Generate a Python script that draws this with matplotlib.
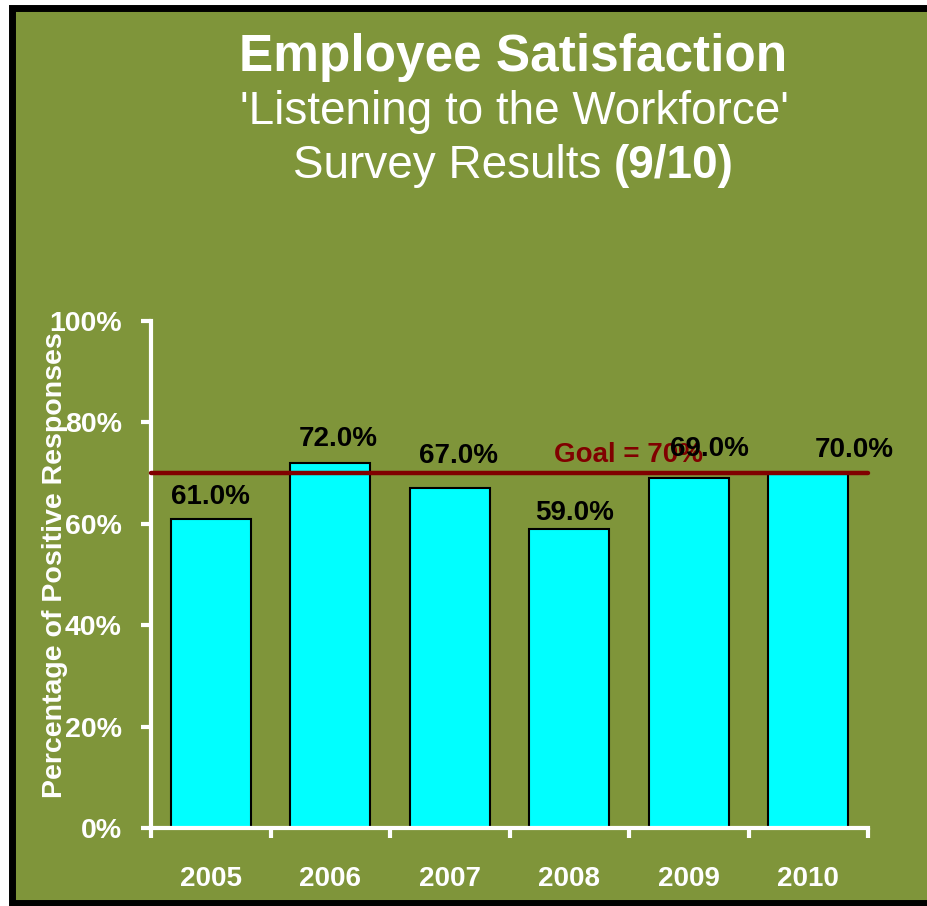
import matplotlib
matplotlib.use("Agg")
import matplotlib.pyplot as plt
from matplotlib.patches import Rectangle
from matplotlib.ticker import FuncFormatter, FixedLocator
import numpy as np

plt.rcParams['font.family'] = ['Liberation Sans', 'DejaVu Sans']

years = ["2005", "2006", "2007", "2008", "2009", "2010"]
values = [61.0, 72.0, 67.0, 59.0, 69.0, 70.0]
goal = 70.0
yticks = [0, 20, 40, 60, 80, 100]

# label placement tweaks (points), as in the original layout
label_dx = [0, 6, 6, 4, 15, 33]
label_dy = [6, 8, 14, 2, 12, 7]

W, H = 928, 906
fig = plt.figure(figsize=(W / 100, H / 100), dpi=100)
fig.patch.set_facecolor("white")

olive = "#7f953a"
panel = Rectangle((12 / W, 1 - 903 / H), 1.0, (903 - 8) / H, transform=fig.transFigure,
                  facecolor=olive, edgecolor="black", linewidth=5, zorder=-5)
fig.patches.append(panel)

ax = fig.add_axes([151 / W, 1 - 828 / H, (868 - 151) / W, (828 - 321) / H])
ax.set_facecolor("none")
ax.set_zorder(2)

x = np.arange(len(years))
ax.bar(x, values, width=0.67, color="#00ffff", edgecolor="black", linewidth=1.5, zorder=2)
ax.plot([-0.5, 5.5], [goal, goal], color="#800000", linewidth=3.2, zorder=3,
        solid_capstyle="round", clip_on=False)
ax.text(3.5, goal + 1.0, f"Goal = {goal:.0f}%", color="#800000", fontsize=20,
        fontweight="bold", ha="center", va="bottom", zorder=4)

for i, v in enumerate(values):
    ax.annotate(f"{v:.1f}%", (x[i], v), xytext=(label_dx[i], label_dy[i]),
                textcoords="offset points", ha="center", va="bottom",
                fontsize=20, fontweight="bold", color="black", zorder=5)

ax.set_xlim(-0.5, 5.5)
ax.set_ylim(0, 100)
for s in ["top", "right"]:
    ax.spines[s].set_visible(False)
for s in ["left", "bottom"]:
    ax.spines[s].set_color("white")
    ax.spines[s].set_linewidth(3)

ax.yaxis.set_major_locator(FixedLocator(yticks))
ax.yaxis.set_major_formatter(FuncFormatter(lambda v, p: f"{v:.0f}%"))
ax.tick_params(axis="y", colors="white", length=7, width=3, direction="out", pad=14,
               labelsize=20.5)
for t in ax.get_yticklabels():
    t.set_fontweight("bold")

ax.set_xticks(x)
ax.set_xticklabels(years, fontsize=20, fontweight="bold", color="white")
ax.set_xticks(np.arange(-0.5, 6.0, 1.0), minor=True)
ax.tick_params(axis="x", which="major", length=0, pad=27, colors="white")
ax.tick_params(axis="x", which="minor", length=7, width=3, direction="out", colors="white")

fig.text(55 / W, 1 - 565 / H, "Percentage of Positive Responses", rotation=90,
         color="white", fontsize=20.5, fontweight="bold", ha="center", va="center",
         zorder=10)

fig.text(513 / W, 1 - 57 / H, "Employee Satisfaction", color="white", fontsize=37,
         fontweight="bold", ha="center", va="center")
fig.text(514 / W, 1 - 112 / H, "'Listening to the Workforce'", color="white",
         fontsize=33, ha="center", va="center")
t1 = fig.text(293 / W, 1 - 166 / H, "Survey Results ", color="white", fontsize=33,
              ha="left", va="center")
fig.canvas.draw()
bb = t1.get_window_extent()
fig.text(bb.x1 / W, 1 - 166 / H, "(9/10)", color="white", fontsize=33,
         fontweight="bold", ha="left", va="center")

fig.savefig("out.png", dpi=100, facecolor=fig.get_facecolor())
